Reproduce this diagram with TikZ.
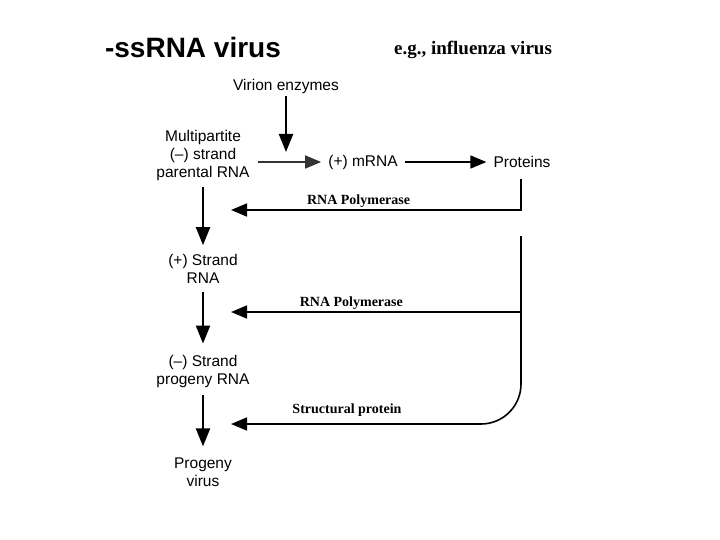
\documentclass[tikz,border=0pt]{standalone}
\usepackage{fontspec}
\setmainfont{Liberation Serif}
\setsansfont{Liberation Sans}
\usetikzlibrary{positioning,arrows.meta}

\begin{document}
\begin{tikzpicture}[
    x=1pt, y=-1pt,
    stage/.style={font=\fontsize{15.5}{18}\selectfont\sffamily, align=center, inner sep=3pt},
    enzyme/.style={font=\fontsize{14}{16}\selectfont\rmfamily\bfseries, inner sep=2pt},
    arrow/.style={-{Triangle[length=18pt,width=14pt]}, line width=2.2pt, draw=black},
    flow/.style={-{Triangle[length=16pt,width=13pt]}, line width=1.6pt, draw=black}
]
\useasboundingbox (0,0) rectangle (720,540);

% Titles
\node[font=\fontsize{28}{32}\selectfont\sffamily\bfseries] (title) at (193,47) {-ssRNA virus};
\node[font=\fontsize{19}{22}\selectfont\rmfamily\bfseries] (example) at (473,50) {e.g., influenza virus};

% Top row
\node[stage] (virion) at (286,86) {Virion enzymes};
\node[stage] (parental) at (203,155) {Multipartite\\(--) strand\\parental RNA};
\node[stage] (mrna) at (363,162) {(+) mRNA};
\node[stage] (proteins) at (522,162) {Proteins};

% Left column
\node[stage] (plus) at (203,269) {(+) Strand\\RNA};
\node[stage] (progeny) at (203,371) {(--) Strand\\progeny RNA};
\node[stage] (virus) at (203,472) {Progeny\\virus};

% Free ends of the feedback arrows
\coordinate (vtip) at (286,152);
\coordinate (in1) at (231,210);
\coordinate (in2) at (231,312);
\coordinate (in3) at (231,424);
\coordinate (split) at (521,236);

% Main pathway
\draw[arrow] (virion.south) -- (vtip);
\draw[flow, draw=black!80] ([yshift=-7pt]parental.east) ++(5pt,0) -- ([xshift=-4pt]mrna.west);
\draw[flow] ([xshift=4pt]mrna.east) -- ([xshift=-4pt]proteins.west);

\draw[arrow, shorten <=4pt, shorten >=6pt] (parental) -- (plus);
\draw[arrow, shorten <=5pt, shorten >=8pt] (plus) -- (progeny);
\draw[arrow, shorten <=5pt, shorten >=8pt] (progeny) -- (virus);

% Feedback from proteins
\draw[flow] ([xshift=-1pt,yshift=-8pt]proteins.south) |- node[enzyme, above, pos=0.78] (pol1) {RNA Polymerase} (in1);
\draw[flow, rounded corners=40pt] (split) |- node[enzyme, above=5pt, pos=0.8] (struct) {Structural protein} (in3);
\draw[flow] (split |- in2) -- node[enzyme, above, pos=0.585] (pol2) {RNA Polymerase} (in2);

\end{tikzpicture}
\end{document}
